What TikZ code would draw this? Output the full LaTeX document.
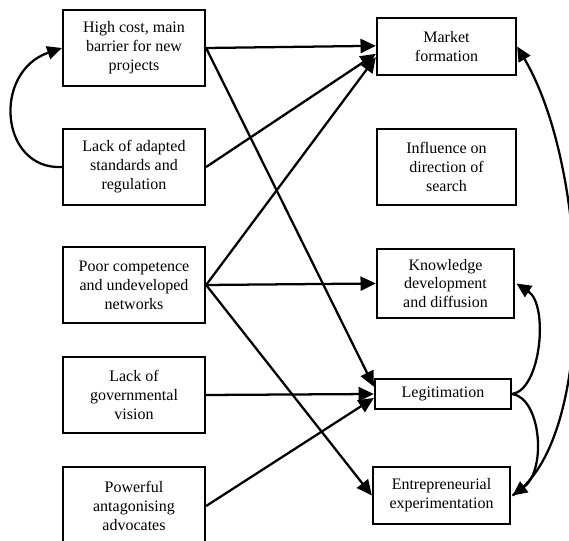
\documentclass[tikz,border=0pt]{standalone}
\usepackage{fontspec}
\setmainfont{Liberation Serif}
\usetikzlibrary{arrows.meta,calc}

\begin{document}
\begin{tikzpicture}[x=0.75pt,y=-0.75pt,
  box/.style={draw,line width=1.7pt,inner sep=0pt,align=center,
    font=\fontsize{12}{14.2}\selectfont},
  leftbox/.style={box,minimum width=106.5pt,minimum height=57pt},
  arr/.style={line width=1.7pt,-{Triangle[length=11.5pt,width=10.5pt]}},
  loopline/.style={line width=1.7pt,-{Triangle[length=11pt,width=10pt]}}]
\useasboundingbox (0,0) rectangle (569,541);
\clip (0,0) rectangle (569,541);

% barriers (left column)
\node[leftbox] (hc)  at (134,48)  {High cost, main\\barrier for new\\projects};
\node[leftbox] (la)  at (134,167) {Lack of adapted\\standards and\\regulation};
\node[leftbox] (pc)  at (134,285) {Poor competence\\and undeveloped\\networks};
\node[leftbox] (lgv) at (134,395) {Lack of\\governmental\\vision};
\node[leftbox,minimum height=58.5pt] (pa) at (134,506) {Powerful\\antagonising\\advocates};

% system functions (right column)
\node[box,minimum width=104.25pt,minimum height=42.75pt] (mf)  at (446.5,46.5)  {Market\\formation};
\node[box,minimum width=104.25pt,minimum height=57pt]    (ids) at (446.5,167)   {Influence on\\direction of\\search};
\node[box,minimum width=102.75pt,minimum height=51.75pt] (kd)  at (445.5,283.5) {Knowledge\\development\\and diffusion};
\node[box,minimum width=102pt,minimum height=22.5pt]     (lgt) at (443,394)     {Legitimation};
\node[box,minimum width=102.75pt,minimum height=42.75pt] (ep)  at (441.5,495.5) {Entrepreneurial\\experimentation};

% straight influences
\draw[arr] (hc.east) -- ([yshift=0.5pt]mf.west);
\draw[arr] (hc.east) -- ([yshift=5.5pt]lgt.west);
\draw[arr] (la.east) -- ([yshift=-5.5pt]mf.west);
\draw[arr] (pc.east) -- ([yshift=-8pt]mf.west);
\draw[arr] (pc.east) -- (kd.west);
\draw[arr] (pc.east) -- (ep.west);
\draw[arr] (lgv.east) -- (lgt.west);
\draw[arr] (pa.east) -- ([yshift=-3pt]lgt.west);

% feedback loops
\draw[loopline] (la.west) .. controls (0,170) and (-8,72) .. (hc.west);
\draw[loopline] (lgt.east) .. controls (541,390) and (549,305) .. ([xshift=1pt]kd.east);
\draw[loopline] (lgt.east) .. controls (541,398) and (547,470) .. ([xshift=1pt]ep.east);
\draw[loopline] ([xshift=1pt]ep.east) .. controls (598,440) and (590,170) .. (mf.east);
\end{tikzpicture}
\end{document}
